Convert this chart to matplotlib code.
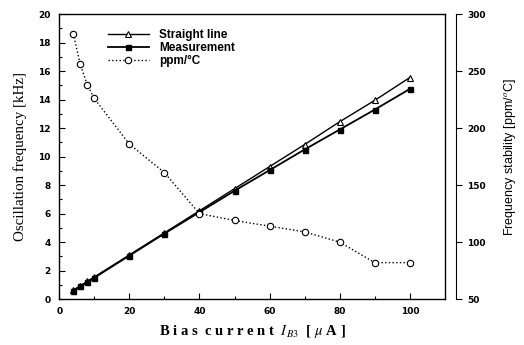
import numpy as np
import matplotlib
matplotlib.use("Agg")
import matplotlib.pyplot as plt

# bias current (uA)
bias = [4, 6, 8, 10, 20, 30, 40, 50, 60, 70, 80, 90, 100]
# oscillation frequency (kHz)
straight = [0.62, 0.93, 1.24, 1.55, 3.1, 4.65, 6.2, 7.75, 9.3, 10.85, 12.45, 13.95, 15.55]
measured = [0.6, 0.9, 1.2, 1.5, 3.05, 4.6, 6.1, 7.6, 9.05, 10.5, 11.9, 13.3, 14.75]
# frequency stability (ppm/C)
ppm = [283, 256, 238, 226, 186, 161, 125, 119, 114, 109, 100, 82, 82]

plt.rcParams['mathtext.fontset'] = 'stix'

fig = plt.figure(figsize=(5.24, 3.45), dpi=100)
ax = fig.add_axes([0.113, 0.133, 0.736, 0.826])

l1, = ax.plot(bias, straight, '-^', color='black', lw=1.0, ms=4,
              mfc='white', mec='black', mew=0.8, label='Straight line')
l2, = ax.plot(bias, measured, '-s', color='black', lw=1.3, ms=3.6,
              mfc='black', label='Measurement')

ax.set_xlim(0, 110)
ax.set_ylim(0, 20)
ax.set_xticks([0, 20, 40, 60, 80, 100])
ax.set_xticks(np.arange(10, 110, 20), minor=True)
ax.set_yticks(np.arange(0, 21, 2))
ax.set_yticks(np.arange(1, 20, 2), minor=True)
ax.tick_params(direction='in', length=4, width=0.8, labelsize=6.5, pad=6)
ax.tick_params(which='minor', direction='in', length=2.5, width=0.8)
ax.tick_params(axis='y', right=False)
for lab in ax.get_xticklabels() + ax.get_yticklabels():
    lab.set_fontweight('bold')
for s in ax.spines.values():
    s.set_linewidth(1.0)

ax.set_ylabel('Oscillation frequency [kHz]', family='Liberation Serif',
              fontsize=10.8, labelpad=8)
ax.set_xlabel(r'B i a s  c u r r e n t  $I_{\,B3}$  [ $\mu$ A ]', family='Liberation Serif',
              fontsize=10.5, fontweight='bold', labelpad=5)

ax2 = ax.twinx()
l3, = ax2.plot(bias, ppm, ':o', color='black', lw=1.0, ms=4.6,
               mfc='white', mec='black', mew=0.8, label='ppm/°C')
ax2.set_ylim(50, 300)
ax2.set_yticks([50, 100, 150, 200, 250, 300])
for name in ['top', 'bottom', 'left']:
    ax2.spines[name].set_visible(False)
ax2.spines['right'].set_position(('outward', 8))
ax2.spines['right'].set_linewidth(0.8)
ax2.tick_params(direction='out', length=4, width=0.8, labelsize=6.5, pad=4)
for lab in ax2.get_yticklabels():
    lab.set_fontweight('bold')
ax2.set_ylabel('Frequency stability [ppm/$^o$C]', fontsize=9, labelpad=12,
               family='Liberation Sans')

leg = ax.legend(handles=[l1, l2, l3], labels=['Straight line', 'Measurement', 'ppm/°C'],
                loc='upper left', bbox_to_anchor=(0.1, 0.985), frameon=False,
                prop={'family': 'Liberation Sans', 'weight': 'bold', 'size': 8.5},
                handlelength=3.4, handletextpad=0.9, labelspacing=0.1)

fig.savefig('out.png', dpi=100)
